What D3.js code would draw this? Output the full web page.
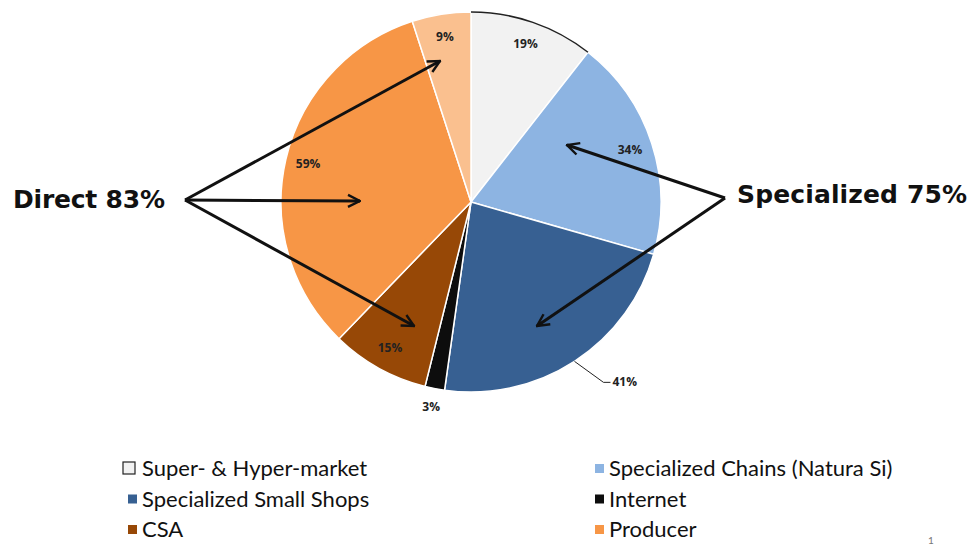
<!DOCTYPE html>
<html><head><meta charset="utf-8">
<script src="https://cdn.jsdelivr.net/npm/d3@7"></script>
<style>html,body{margin:0;padding:0;background:#fff;}svg{display:block;}</style>
</head><body>
<svg id="chart" width="975" height="545"></svg>
<script>
const categories = ["Super- & Hyper-market","Specialized Chains (Natura Si)","Specialized Small Shops","Internet","CSA","Producer","Other direct"];
const values = [19, 34, 41, 3, 15, 59, 9];
const labels = ["19%","34%","41%","3%","15%","59%","9%"];
const colors = ["#f2f2f2","#8db4e2","#376092","#0d0d0d","#974806","#f79646","#fac08f"];
const legendItems = [0,1,2,3,4,5];
const groupLabels = ["Direct 83%","Specialized 75%"];

const svg = d3.select("#chart");
const cx = 471, cy = 202, R = 190;
const g = svg.append("g").attr("transform", `translate(${cx},${cy})`);
const pie = d3.pie().sort(null).value(d => d);
const arcs = pie(values);
const arc = d3.arc().innerRadius(0).outerRadius(R);

g.selectAll("path.slice").data(arcs).join("path")
  .attr("class","slice")
  .attr("d", arc)
  .attr("fill", (d,i) => colors[i])
  .attr("stroke", "#fff").attr("stroke-width", 1.5);

// dark outer arc on the first slice
g.append("path")
  .attr("d", d3.arc().innerRadius(R).outerRadius(R)(arcs[0]))
  .attr("fill","none").attr("stroke","#222").attr("stroke-width",1.5);

// labels
const pt = (ang, r) => [Math.sin(ang)*r, -Math.cos(ang)*r];
arcs.forEach((d,i) => {
  const mid = (d.startAngle + d.endAngle)/2;
  let r = 0.88*R;
  if (i === 3) r = 1.1*R;
  if (i === 2) {
    const a = pt(mid, R);
    const b = [a[0]+29, a[1]+21];
    g.append("polyline").attr("points", [a, b, [b[0]+7, b[1]]].map(p=>p.join(",")).join(" "))
      .attr("fill","none").attr("stroke","#222").attr("stroke-width",1);
    g.append("text").attr("x", b[0]+9).attr("y", b[1]+4)
      .attr("font-family","Open Sans, sans-serif").attr("font-weight","bold")
      .attr("font-size",12).attr("fill","#222").text(labels[i]);
    return;
  }
  const p = pt(mid, r);
  g.append("text").attr("x", p[0]).attr("y", p[1]+4)
    .attr("text-anchor","middle")
    .attr("font-family","Open Sans, sans-serif").attr("font-weight","bold")
    .attr("font-size",12).attr("fill","#222").text(labels[i]);
});

// arrows
const defs = svg.append("defs");
defs.append("marker").attr("id","ah").attr("viewBox","0 0 10 10")
  .attr("refX",9).attr("refY",5).attr("markerWidth",5).attr("markerHeight",5)
  .attr("orient","auto-start-reverse").attr("markerUnits","strokeWidth")
  .append("path").attr("d","M1,1 L9,5 L1,9").attr("fill","none")
  .attr("stroke","#111").attr("stroke-width",1.6);

const arrows = [
  [[185,200],[440,61]],
  [[185,200],[360,201]],
  [[185,200],[414,326]],
  [[725,198],[567,145]],
  [[725,198],[537,326]]
];
arrows.forEach(([a,b]) => {
  svg.append("line").attr("x1",a[0]).attr("y1",a[1]).attr("x2",b[0]).attr("y2",b[1])
    .attr("stroke","#111").attr("stroke-width",3).attr("marker-end","url(#ah)");
});

svg.append("text").attr("x",13).attr("y",208)
  .attr("font-family","DejaVu Sans, sans-serif").attr("font-weight","bold")
  .attr("font-size",25).attr("fill","#111").attr("textLength",152).text(groupLabels[0]);
svg.append("text").attr("x",737).attr("y",203)
  .attr("font-family","DejaVu Sans, sans-serif").attr("font-weight","bold")
  .attr("font-size",25).attr("fill","#111").attr("textLength",230).text(groupLabels[1]);

// legend
const lg = svg.append("g");
legendItems.forEach((idx,k) => {
  const col = k % 2, row = Math.floor(k/2);
  const tx = col === 0 ? 142 : 609;
  const y = 476 + row*30.5;
  if (idx === 0) {
    lg.append("rect").attr("x", tx-19).attr("y", y-14).attr("width",12).attr("height",12)
      .attr("fill", colors[idx]).attr("stroke","#222").attr("stroke-width",1.2);
  } else {
    lg.append("rect").attr("x", tx-14).attr("y", y-12).attr("width",9).attr("height",9)
      .attr("fill", colors[idx]);
  }
  lg.append("text").attr("x", tx).attr("y", y)
    .attr("font-family","Lato, sans-serif").attr("font-size",22).attr("fill","#111")
    .text(categories[idx]);
});
svg.append("text").attr("x",928).attr("y",544).attr("font-family","Lato, sans-serif")
  .attr("font-size",10).attr("fill","#777").text("1");
</script>
</body></html>
